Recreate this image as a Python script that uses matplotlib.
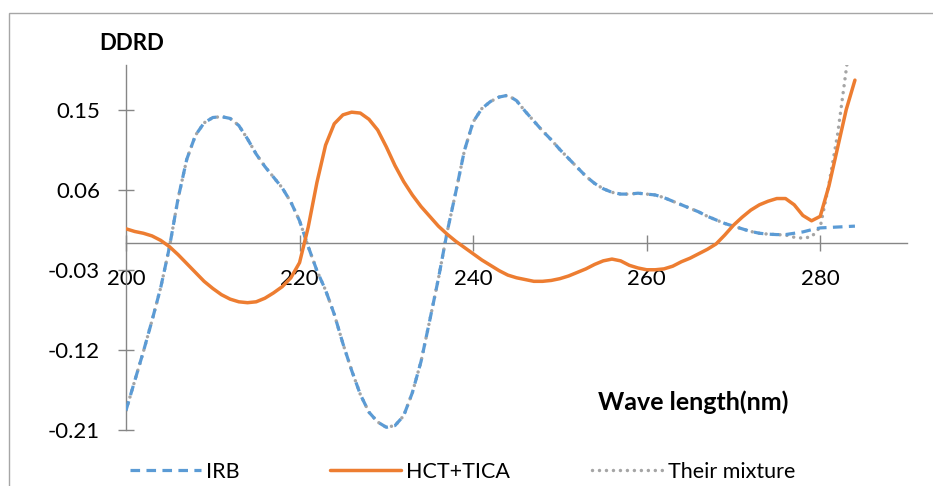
import matplotlib.pyplot as plt
from matplotlib.patches import Rectangle

plt.rcParams['font.family'] = ['Lato', 'DejaVu Sans']

# wavelength grid (nm) and ratio-derivative amplitudes
wavelength = list(range(200, 285))

irb = [-0.188, -0.155, -0.122, -0.087, -0.050, -0.005, 0.050, 0.094, 0.121, 0.135,
       0.141, 0.142, 0.140, 0.132, 0.117, 0.100, 0.086, 0.074, 0.062, 0.046,
       0.025, -0.004, -0.031, -0.053, -0.080, -0.113, -0.143, -0.170, -0.190, -0.201,
       -0.207, -0.205, -0.194, -0.168, -0.133, -0.087, -0.040, 0.012, 0.057, 0.104,
       0.136, 0.151, 0.159, 0.164, 0.166, 0.160, 0.148, 0.137, 0.126, 0.116,
       0.105, 0.095, 0.085, 0.075, 0.067, 0.061, 0.057, 0.055, 0.055, 0.056,
       0.055, 0.054, 0.051, 0.047, 0.043, 0.039, 0.035, 0.030, 0.026, 0.022,
       0.019, 0.016, 0.013, 0.011, 0.010, 0.0095, 0.0095, 0.011, 0.0125, 0.015,
       0.017, 0.0175, 0.018, 0.0185, 0.019]

hct_tica = [0.016, 0.013, 0.011, 0.008, 0.003, -0.004, -0.013, -0.023, -0.033, -0.043,
            -0.051, -0.058, -0.063, -0.066, -0.067, -0.066, -0.062, -0.056, -0.049, -0.039,
            -0.022, 0.018, 0.068, 0.110, 0.134, 0.144, 0.147, 0.146, 0.139, 0.127,
            0.108, 0.087, 0.069, 0.054, 0.041, 0.030, 0.019, 0.010, 0.002, -0.005,
            -0.012, -0.019, -0.025, -0.031, -0.036, -0.039, -0.041, -0.043, -0.043, -0.042,
            -0.040, -0.037, -0.033, -0.029, -0.024, -0.020, -0.018, -0.020, -0.025, -0.028,
            -0.030, -0.030, -0.029, -0.026, -0.021, -0.017, -0.012, -0.007, -0.001, 0.009,
            0.020, 0.029, 0.037, 0.043, 0.047, 0.050, 0.050, 0.043, 0.031, 0.025,
            0.030, 0.064, 0.107, 0.150, 0.183]

mixture = [-0.188, -0.155, -0.122, -0.087, -0.050, -0.005, 0.050, 0.094, 0.121, 0.135,
           0.141, 0.142, 0.140, 0.132, 0.117, 0.100, 0.086, 0.074, 0.062, 0.046,
           0.025, -0.004, -0.031, -0.053, -0.080, -0.113, -0.143, -0.170, -0.190, -0.201,
           -0.207, -0.205, -0.194, -0.168, -0.133, -0.087, -0.040, 0.012, 0.057, 0.104,
           0.136, 0.151, 0.159, 0.164, 0.166, 0.160, 0.148, 0.137, 0.126, 0.116,
           0.105, 0.095, 0.085, 0.075, 0.067, 0.061, 0.057, 0.055, 0.055, 0.056,
           0.055, 0.054, 0.051, 0.047, 0.043, 0.039, 0.035, 0.030, 0.026, 0.022,
           0.019, 0.016, 0.013, 0.011, 0.010, 0.0095, 0.009, 0.0065, 0.0055, 0.007,
           0.018, 0.066, 0.122, 0.195, 0.27]

x_ticks = [200, 220, 240, 260, 280]
y_ticks = [-0.21, -0.12, -0.03, 0.06, 0.15]
y_tick_labels = ['-0.21', '-0.12', '-0.03', '0.06', '0.15']

W, H = 933, 486
fig = plt.figure(figsize=(W / 100, H / 100), dpi=100)
ax = fig.add_axes([126 / W, (H - 430) / H, (907 - 126) / W, (430 - 65) / H])

axis_grey = '#868686'

l_mix, = ax.plot(wavelength, mixture, color='#A5A5A5', lw=2.5,
                 linestyle=(0, (0.01, 2.0)), dash_capstyle='round', zorder=2)
l_irb, = ax.plot(wavelength, irb, color='#5B9BD5', lw=2.3,
                 linestyle=(0, (3.0, 2.0)), dash_capstyle='butt', zorder=3)
l_hct, = ax.plot(wavelength, hct_tica, color='#ED7D31', lw=2.5,
                 solid_capstyle='round', solid_joinstyle='round', zorder=4)

ax.set_xlim(200, 290)
ax.set_ylim(-0.21, 0.2)

for s in ['top', 'right']:
    ax.spines[s].set_visible(False)
ax.spines['bottom'].set_position(('data', 0))
for s in ['bottom', 'left']:
    ax.spines[s].set_color(axis_grey)
    ax.spines[s].set_linewidth(1.0)

ax.set_xticks(x_ticks)
ax.set_xticklabels([str(t) for t in x_ticks])
ax.set_yticks(y_ticks)
ax.set_yticklabels(y_tick_labels)
ax.tick_params(axis='x', direction='inout', length=11, width=1, color=axis_grey,
               labelsize=16, pad=13)
ax.tick_params(axis='y', direction='inout', length=11.5, width=1, color=axis_grey,
               labelsize=16, pad=13)

fig.text(99 / W, 1 - 43 / H, 'DDRD', fontsize=16, fontweight='bold',
         ha='left', va='center')
fig.text(693 / W, 1 - 402 / H, 'Wave length(nm)', fontsize=18, fontweight='bold',
         ha='center', va='center')

# legend entries spread along the bottom
for handle, name, x0 in [(l_irb, 'IRB', 130), (l_hct, 'HCT+TICA', 330),
                         (l_mix, 'Their mixture', 592)]:
    fig.legend(handles=[handle], labels=[name], loc='center left',
               bbox_to_anchor=(x0 / W, 1 - 472 / H), frameon=False,
               fontsize=15.5, handlelength=3.3, handletextpad=0.25,
               borderpad=0, borderaxespad=0)

# chart area border
fig.patches.append(Rectangle((9 / W, -0.1), 1.2, 1 - 13 / H + 0.1,
                             transform=fig.transFigure, fill=False,
                             edgecolor='#A6A6A6', lw=1.0))

fig.savefig('out.png', dpi=100)
